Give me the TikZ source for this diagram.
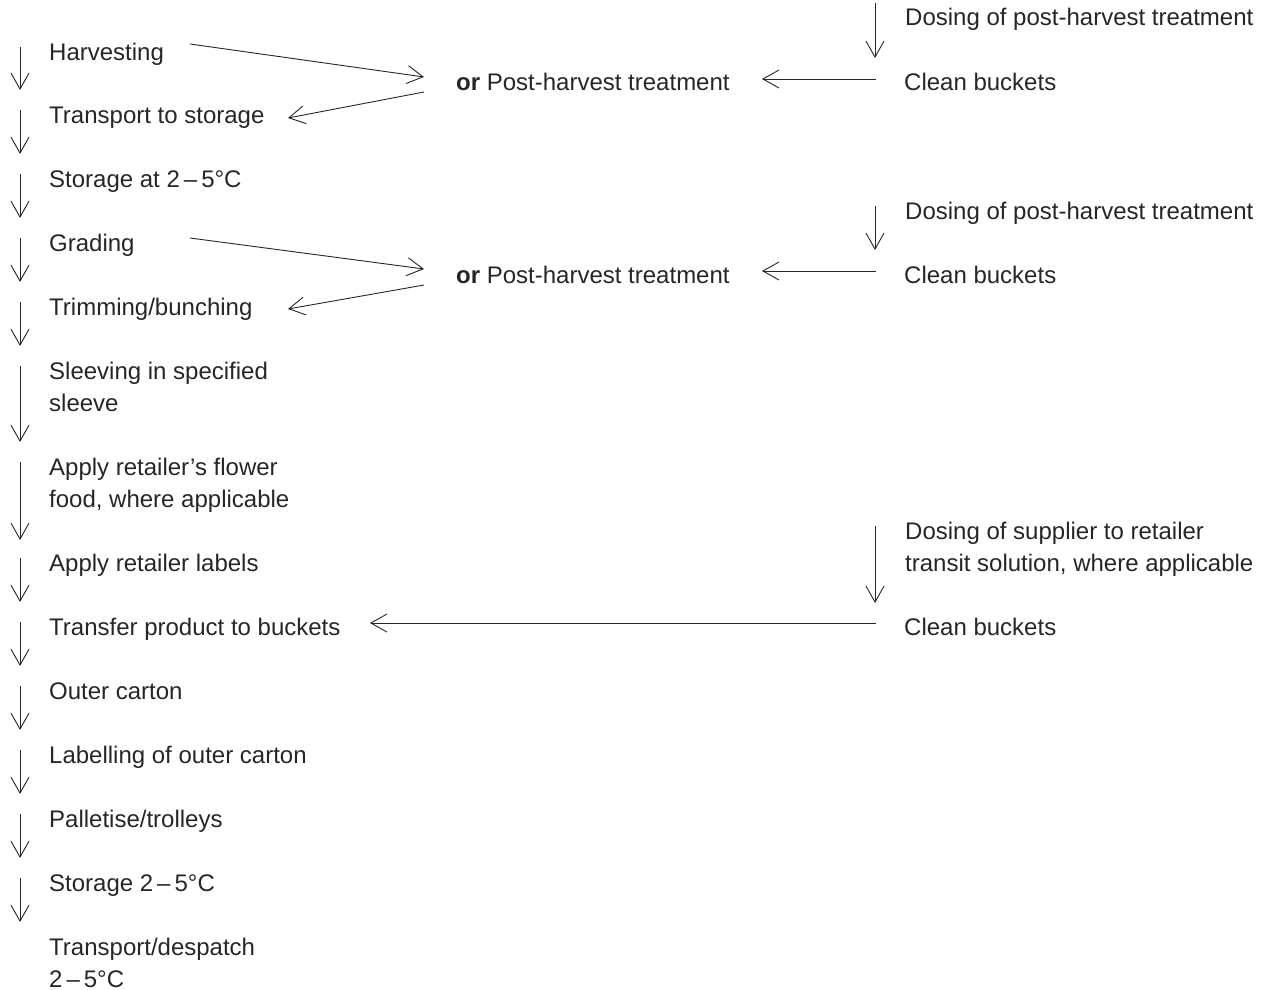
\documentclass[tikz,border=0pt]{standalone}
\usepackage{fontspec}
\setmainfont{Liberation Sans}
\usetikzlibrary{arrows.meta}
\newcommand{\rng}{2\,–\,5°C}
\begin{document}
\begin{tikzpicture}[x=1pt,y=-1pt,
  txt/.style={anchor=base west,inner sep=0pt,font=\fontsize{24}{32}\selectfont,align=left,text=black!85},
  arr/.style={line width=0.9pt,draw=black!85,-{Straight Barb[length=16pt,width=18pt,line width=0.9pt]}}]
\useasboundingbox (0,0) rectangle (1274,990);
% left column (base = last line baseline)
\node[txt] (s1) at (49,60) {Harvesting};
\node[txt] (s2) at (49,123) {Transport to storage};
\node[txt] (s3) at (49,187) {Storage at \rng};
\node[txt] (s4) at (49,251) {Grading};
\node[txt] (s5) at (49,315) {Trimming/bunching};
\node[txt] (s6) at (49,411) {Sleeving in specified\\sleeve};
\node[txt] (s7) at (49,507) {Apply retailer’s flower\\food, where applicable};
\node[txt] (s8) at (49,571) {Apply retailer labels};
\node[txt] (s9) at (49,635) {Transfer product to buckets};
\node[txt] (s10) at (49,699) {Outer carton};
\node[txt] (s11) at (49,763) {Labelling of outer carton};
\node[txt] (s12) at (49,827) {Palletise/trolleys};
\node[txt] (s13) at (49,891) {Storage \rng};
\node[txt] (s14) at (49,987) {Transport/despatch\\\rng};
% left arrows
\foreach \a/\b [count=\i] in {47/90,110/154,174/218,238/282,302/346,366/442,462/540,558/602,622/666,686/730,750/794,814/858,878/922}{
  \coordinate (la\i) at (20,\a);
  \coordinate (lb\i) at (20,\b);
  \draw[arr] (la\i) -- (lb\i);
}
% first treatment group
\node[txt] (or1) at (456,91) {\textbf{or} Post-harvest treatment};
\node[txt] (d1) at (905,26) {Dosing of post-harvest treatment};
\node[txt] (c1) at (904,91) {Clean buckets};
\coordinate (d1a) at (875,3);
\coordinate (d1b) at (875,58);
\draw[arr] (d1a) -- (d1b);
\coordinate (c1a) at (876,79);
\coordinate (c1b) at (762,79);
\draw[arr] (c1a) -- (c1b);
\coordinate (h1a) at (190,44);
\coordinate (h1b) at (424,77);
\draw[arr] (h1a) -- (h1b);
\coordinate (h1c) at (424,92);
\coordinate (h1d) at (288,118);
\draw[arr] (h1c) -- (h1d);
% second treatment group
\node[txt] (or2) at (456,283) {\textbf{or} Post-harvest treatment};
\node[txt] (d2) at (905,219) {Dosing of post-harvest treatment};
\node[txt] (c2) at (904,283) {Clean buckets};
\coordinate (d2a) at (875,206);
\coordinate (d2b) at (875,250);
\draw[arr] (d2a) -- (d2b);
\coordinate (c2a) at (876,271);
\coordinate (c2b) at (762,271);
\draw[arr] (c2a) -- (c2b);
\coordinate (h2a) at (190,238);
\coordinate (h2b) at (424,269);
\draw[arr] (h2a) -- (h2b);
\coordinate (h2c) at (424,285);
\coordinate (h2d) at (288,309);
\draw[arr] (h2c) -- (h2d);
% third group
\node[txt] (d3) at (905,571) {Dosing of supplier to retailer\\transit solution, where applicable};
\node[txt] (c3) at (904,635) {Clean buckets};
\coordinate (d3a) at (875,526);
\coordinate (d3b) at (875,603);
\draw[arr] (d3a) -- (d3b);
\coordinate (c3a) at (876,623);
\coordinate (c3b) at (370,623);
\draw[arr] (c3a) -- (c3b);
\end{tikzpicture}
\end{document}
